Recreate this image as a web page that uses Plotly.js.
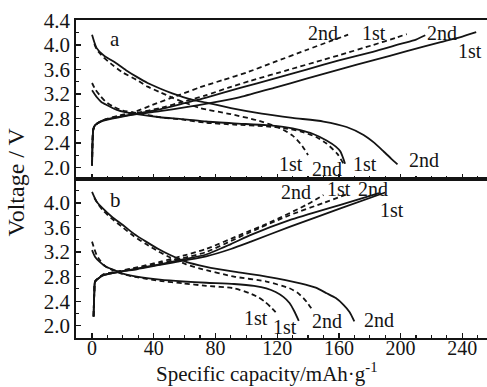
<!DOCTYPE html>
<html>
<head>
<meta charset="utf-8">
<script src="https://cdn.plot.ly/plotly-3.0.1.min.js"></script>
<style>html,body{margin:0;padding:0;background:#fff;}#chart{width:487px;height:387px;}</style>
</head>
<body>
<div id="chart"></div>
<script>
// ---------- Panel a: discharge curves ----------
const aDis2SolidX = [0, 3, 8, 14, 22, 29, 36, 44, 52, 59, 66, 74, 90, 110, 130, 150, 165, 176, 183, 189, 194, 198];
const aDis2SolidY = [4.17, 3.95, 3.82, 3.73, 3.59, 3.48, 3.38, 3.29, 3.21, 3.15, 3.10, 3.06, 2.97, 2.88, 2.81, 2.75, 2.66, 2.53, 2.40, 2.26, 2.14, 2.05];
const aDis1DashX = [1.5, 3, 7, 12, 20, 29, 36, 44, 52, 59, 70, 90, 107, 122, 130, 136, 140];
const aDis1DashY = [4.02, 3.93, 3.81, 3.70, 3.55, 3.43, 3.32, 3.23, 3.14, 3.07, 2.97, 2.87, 2.77, 2.64, 2.52, 2.36, 2.20];
const aDis1SolidX = [0, 3, 6, 9.5, 16, 22, 29, 44, 59, 74, 92, 113, 125, 135, 143, 152, 158, 161, 164];
const aDis1SolidY = [3.26, 3.15, 3.07, 3.02, 2.94, 2.90, 2.87, 2.82, 2.79, 2.75, 2.72, 2.69, 2.66, 2.61, 2.55, 2.44, 2.34, 2.26, 2.06];
const aDis2DashX = [0, 2, 5, 9, 14, 20, 29, 44, 59, 74, 92, 113, 125, 135, 145, 152, 159, 163];
const aDis2DashY = [3.38, 3.28, 3.18, 3.07, 2.99, 2.93, 2.89, 2.82, 2.78, 2.73, 2.70, 2.67, 2.64, 2.59, 2.50, 2.39, 2.22, 2.06];
// ---------- Panel a: charge curves ----------
const aChg1SolidX = [0, 0.3, 0.8, 2, 7, 18, 29, 44, 60, 78, 96, 118, 139, 160, 182, 204, 226, 240, 249];
const aChg1SolidY = [2.03, 2.40, 2.62, 2.69, 2.76, 2.82, 2.87, 2.92, 2.98, 3.06, 3.15, 3.30, 3.45, 3.60, 3.75, 3.90, 4.05, 4.14, 4.21];
const aChg2SolidX = [0, 0.3, 0.8, 2, 7, 18, 29, 44, 60, 74, 96, 118, 139, 160, 182, 200, 210, 216];
const aChg2SolidY = [2.03, 2.40, 2.62, 2.69, 2.77, 2.83, 2.88, 2.95, 3.05, 3.14, 3.30, 3.45, 3.60, 3.75, 3.89, 4.02, 4.09, 4.16];
const aChg1DashX = [0, 0.3, 0.8, 2, 7, 18, 29, 44, 60, 74, 88, 102, 128, 150, 161, 182, 197, 204];
const aChg1DashY = [2.03, 2.40, 2.62, 2.69, 2.77, 2.84, 2.89, 2.97, 3.08, 3.18, 3.30, 3.41, 3.60, 3.76, 3.84, 4.00, 4.12, 4.18];
const aChg2DashX = [0, 0.3, 0.8, 2, 7, 18, 29, 38, 55, 70, 85, 100, 118, 139, 154, 166];
const aChg2DashY = [2.03, 2.40, 2.62, 2.69, 2.77, 2.85, 2.92, 3.01, 3.17, 3.31, 3.43, 3.55, 3.72, 3.92, 4.06, 4.17];
// ---------- Panel b: discharge curves ----------
const bDis2SolidX = [0, 3, 7, 13, 20, 27, 35, 43, 50, 61, 74, 92, 113, 135, 145, 152, 158, 163, 167, 170];
const bDis2SolidY = [4.18, 4.02, 3.91, 3.77, 3.64, 3.50, 3.37, 3.25, 3.16, 3.04, 2.96, 2.88, 2.80, 2.69, 2.62, 2.53, 2.45, 2.34, 2.22, 2.07];
const bDis2DashX = [1.5, 4, 7, 13, 20, 27, 35, 43, 50, 61, 70, 92, 113, 128, 133, 137, 140, 143];
const bDis2DashY = [4.08, 3.98, 3.88, 3.74, 3.60, 3.46, 3.33, 3.21, 3.12, 3.00, 2.93, 2.80, 2.72, 2.61, 2.54, 2.45, 2.36, 2.25];
const bDis1SolidX = [0, 2, 5, 9, 14, 20, 29, 44, 59, 74, 92, 105, 113, 119, 124, 128, 131, 134];
const bDis1SolidY = [3.23, 3.12, 3.04, 2.96, 2.91, 2.85, 2.80, 2.75, 2.72, 2.70, 2.68, 2.65, 2.61, 2.55, 2.47, 2.37, 2.24, 2.08];
const bDis1DashX = [0, 1.5, 3, 5, 8, 14, 20, 29, 44, 59, 74, 92, 102, 108, 112, 116, 119];
const bDis1DashY = [3.37, 3.25, 3.15, 3.07, 2.98, 2.90, 2.84, 2.79, 2.73, 2.69, 2.65, 2.61, 2.53, 2.46, 2.39, 2.30, 2.22];
// ---------- Panel b: charge curves ----------
const bChg1SolidX = [1, 1.2, 1.5, 2, 7, 18, 29, 44, 59, 74, 90, 103, 128, 161, 190];
const bChg1SolidY = [2.15, 2.35, 2.55, 2.72, 2.82, 2.88, 2.92, 2.99, 3.06, 3.13, 3.25, 3.37, 3.61, 3.91, 4.17];
const bChg2SolidX = [1, 1.2, 1.5, 2, 7, 18, 29, 44, 59, 74, 90, 103, 128, 161, 186];
const bChg2SolidY = [2.15, 2.35, 2.55, 2.72, 2.82, 2.88, 2.93, 3.00, 3.08, 3.16, 3.33, 3.48, 3.72, 3.97, 4.16];
const bChg1DashX = [1, 1.2, 1.5, 2, 7, 18, 29, 44, 59, 74, 90, 103, 128, 150, 166];
const bChg1DashY = [2.15, 2.35, 2.55, 2.72, 2.83, 2.89, 2.94, 3.02, 3.10, 3.20, 3.38, 3.53, 3.80, 4.00, 4.15];
const bChg2DashX = [1, 1.2, 1.5, 2, 7, 18, 29, 44, 59, 74, 96, 115, 139, 150];
const bChg2DashY = [2.15, 2.35, 2.55, 2.72, 2.83, 2.89, 2.95, 3.04, 3.14, 3.25, 3.48, 3.68, 3.97, 4.13];

// ---------- Labels ----------
const panelLabels = ['a', 'b'];
const panelLabelX = [15, 15.5];
const panelLabelY = [4.10, 4.04];
const aLabelText = ['2nd', '1st', '2nd', '1st', '1st', '2nd', '1st', '2nd'];
const aLabelX = [150, 183, 227, 245, 129, 152, 177, 215];
const aLabelY = [4.19, 4.19, 4.19, 3.90, 2.06, 1.98, 2.06, 2.12];
const bLabelText = ['2nd', '1st', '2nd', '1st', '1st', '1st', '2nd', '2nd'];
const bLabelX = [132, 160, 182, 194.5, 106, 125, 152, 186];
const bLabelY = [4.18, 4.22, 4.22, 3.88, 2.13, 1.98, 2.07, 2.09];
const xTitle = 'Specific capacity/mAh·g<sup>-1</sup>';
const yTitle = 'Voltage / V';

const xTicks = [0, 40, 80, 120, 160, 200, 240];

const INK = '#141414';
const FONT = 'Liberation Serif, Times New Roman, serif';
const DASH = '5px,3.5px';

function curve(x, y, dashed, xa, ya) {
  return {
    x: x, y: y, xaxis: xa, yaxis: ya, mode: 'lines', type: 'scatter',
    line: {color: INK, width: 1.8, dash: dashed ? DASH : 'solid', shape: 'spline', smoothing: 0.6},
    hoverinfo: 'skip', showlegend: false
  };
}

const traces = [
  curve(aDis2SolidX, aDis2SolidY, false, 'x2', 'y2'),
  curve(aDis1DashX, aDis1DashY, true, 'x2', 'y2'),
  curve(aDis1SolidX, aDis1SolidY, false, 'x2', 'y2'),
  curve(aDis2DashX, aDis2DashY, true, 'x2', 'y2'),
  curve(aChg1SolidX, aChg1SolidY, false, 'x2', 'y2'),
  curve(aChg2SolidX, aChg2SolidY, false, 'x2', 'y2'),
  curve(aChg1DashX, aChg1DashY, true, 'x2', 'y2'),
  curve(aChg2DashX, aChg2DashY, true, 'x2', 'y2'),
  curve(bDis2SolidX, bDis2SolidY, false, 'x', 'y'),
  curve(bDis2DashX, bDis2DashY, true, 'x', 'y'),
  curve(bDis1SolidX, bDis1SolidY, false, 'x', 'y'),
  curve(bDis1DashX, bDis1DashY, true, 'x', 'y'),
  curve(bChg1SolidX, bChg1SolidY, false, 'x', 'y'),
  curve(bChg2SolidX, bChg2SolidY, false, 'x', 'y'),
  curve(bChg1DashX, bChg1DashY, true, 'x', 'y'),
  curve(bChg2DashX, bChg2DashY, true, 'x', 'y')
];

const annotations = [];
function addLabel(text, x, y, xref, yref, size) {
  annotations.push({text: text, x: x, y: y, xref: xref, yref: yref, showarrow: false,
    font: {family: FONT, size: size, color: INK}, xanchor: 'center', yanchor: 'middle'});
}
addLabel(panelLabels[0], panelLabelX[0], panelLabelY[0], 'x2', 'y2', 21);
addLabel(panelLabels[1], panelLabelX[1], panelLabelY[1], 'x', 'y', 21);
aLabelText.forEach((t, i) => addLabel(t, aLabelX[i], aLabelY[i], 'x2', 'y2', 20));
bLabelText.forEach((t, i) => addLabel(t, bLabelX[i], bLabelY[i], 'x', 'y', 20));
// axis titles (placed over the whole stacked plot)
annotations.push({text: xTitle, xref: 'paper', yref: 'paper', x: 0.465, y: -0.155, showarrow: false,
  xanchor: 'center', yanchor: 'bottom', borderpad: 0, font: {family: FONT, size: 21, color: INK}});
annotations.push({text: yTitle, xref: 'paper', yref: 'paper', x: -0.145, y: 0.49, showarrow: false,
  textangle: -90, xanchor: 'center', yanchor: 'middle', font: {family: FONT, size: 24, color: INK}});

const tickFont = {family: FONT, size: 21, color: INK};
const xCommon = {
  range: [-10.4, 256], tickmode: 'array', tickvals: xTicks, ticks: 'inside', ticklen: 5, tickwidth: 1.3,
  tickcolor: INK, showline: true, linecolor: INK, linewidth: 1.7, mirror: true, showgrid: false, zeroline: false,
  minor: {dtick: 10, tick0: 0, ticks: 'inside', ticklen: 3, tickwidth: 1.1, tickcolor: INK, showgrid: false}
};
const yCommon = {
  tickmode: 'linear', tick0: 2.0, dtick: 0.4, tickformat: '.1f', ticks: 'inside', ticklen: 5, tickwidth: 1.3,
  tickcolor: INK, showline: true, linecolor: INK, linewidth: 1.7, showgrid: false, zeroline: false,
  tickfont: tickFont,
  minor: {dtick: 0.2, tick0: 2.0, ticks: 'inside', ticklen: 3, tickwidth: 1.1, tickcolor: INK, showgrid: false}
};

const layout = {
  width: 487, height: 387,
  margin: {l: 76, r: 0, t: 20, b: 49},
  paper_bgcolor: '#fff', plot_bgcolor: '#fff',
  showlegend: false,
  xaxis: Object.assign({}, xCommon, {anchor: 'y', tickfont: {family: FONT, size: 20, color: INK}, ticklabelstandoff: -9}),
  xaxis2: Object.assign({}, xCommon, {anchor: 'y2', matches: 'x', showticklabels: false}),
  yaxis: Object.assign({}, yCommon, {domain: [0, 0.5], range: [1.80, 4.39], anchor: 'x'}),
  yaxis2: Object.assign({}, yCommon, {domain: [0.5, 1], range: [1.81, 4.41], anchor: 'x2'}),
  annotations: annotations
};

Plotly.newPlot('chart', traces, layout, {staticPlot: true, displayModeBar: false});
</script>
</body>
</html>
